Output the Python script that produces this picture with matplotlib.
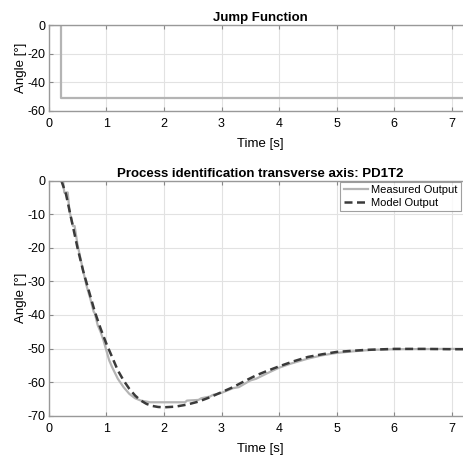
import numpy as np
import matplotlib
matplotlib.use("Agg")
import matplotlib.pyplot as plt

plt.rcParams['font.family'] = ['Liberation Sans', 'DejaVu Sans']
plt.rcParams['axes.unicode_minus'] = False

# jump function (input step)
jump_t = [0.0, 0.22, 10.0]
jump_y = [0.0, -51.0, -51.0]

# measured output
meas_t = [0.0, 0.25, 0.27, 0.33, 0.36, 0.42, 0.45, 0.5, 0.55, 0.6, 0.66, 0.72,
          0.78, 0.8, 0.85, 0.9, 0.95, 1.0, 1.05, 1.1, 1.2, 1.3, 1.4, 1.5, 1.6,
          1.76, 2.37, 2.4, 2.6, 2.65, 2.8, 2.85, 3.0, 3.2, 3.3, 3.5, 3.6, 3.8,
          4.0, 4.2, 4.5, 4.75, 5.0, 5.3, 5.6, 6.0, 7.0, 10.0]
meas_y = [0.0, 0.0, -3.5, -3.5, -9.0, -13.5, -13.5, -19.0, -23.0, -27.0,
          -31.5, -35.0, -39.0, -39.5, -43.0, -45.0, -47.5, -50.5, -53.5, -55.5,
          -59.0, -61.5, -63.5, -64.8, -65.5, -66.0, -66.0, -65.5, -65.3, -64.8,
          -64.3, -63.8, -63.2, -61.8, -61.5, -59.5, -59.0, -57.3, -55.7, -54.5,
          -53.0, -52.0, -51.3, -50.8, -50.4, -50.2, -50.1, -50.1]

# model output PD1T2
model_t = [0.0, 0.22, 0.3, 0.4, 0.5, 0.6, 0.7, 0.8, 0.9, 1.0, 1.1, 1.2, 1.3,
           1.4, 1.5, 1.6, 1.7, 1.8, 1.9, 2.0, 2.2, 2.4, 2.6, 2.8, 3.0, 3.2,
           3.4, 3.6, 3.8, 4.0, 4.25, 4.5, 4.75, 5.0, 5.5, 6.0, 6.5, 7.0, 10.0]
model_y = [0.0, 0.0, -4.0, -12.0, -20.0, -27.0, -33.0, -39.0, -44.0, -48.5,
           -52.5, -56.5, -59.5, -62.0, -64.0, -65.5, -66.5, -67.1, -67.4,
           -67.5, -67.3, -66.7, -65.8, -64.5, -63.0, -61.5, -59.7, -58.0,
           -56.6, -55.3, -53.8, -52.5, -51.7, -51.0, -50.4, -50.1, -50.1,
           -50.2, -50.2]

W, H = 464, 455
fig = plt.figure(figsize=(W / 100, H / 100), dpi=100)

left = 48.7 / W
xmax = 7.35
width = xmax * 57.6 / W  # right edge falls just past the picture

ax1 = fig.add_axes([left, 1 - 110.7 / H, width, 85.7 / H])
ax2 = fig.add_axes([left, 1 - 415.7 / H, width, 235 / H])

light = '#b4b4b4'
dark = '#3a3a3a'

ax1.plot(jump_t, jump_y, color=light, lw=1.6, drawstyle='steps-post')
ax2.plot(meas_t, meas_y, color=light, lw=1.6, label='Measured Output')
ax2.plot(model_t, model_y, color=dark, lw=1.8, ls=(0, (3.2, 1.8)),
         label='Model Output')

for ax in (ax1, ax2):
    ax.set_xlim(0, xmax)
    ax.set_xticks(range(0, 8))
    ax.grid(True, color='#e2e2e2', lw=0.8)
    ax.set_axisbelow(True)
    ax.tick_params(direction='in', top=True, right=True, length=3,
                   labelsize=9, color='#888888')
    ax.tick_params(axis='x', pad=5)
    ax.tick_params(axis='y', pad=2.5)
    for s in ax.spines.values():
        s.set_color('#999999')
        s.set_linewidth(1.0)
    ax.set_xlabel('Time [s]', fontsize=9.5, labelpad=6)
    ax.set_ylabel('Angle [°]', fontsize=9.5, labelpad=0)

ax1.set_ylim(-60, 0)
ax1.set_yticks([-60, -40, -20, 0])
ax1.set_title('Jump Function', fontsize=9.5, fontweight='bold', pad=3)

ax2.set_ylim(-70, 0)
ax2.set_yticks(range(-70, 1, 10))
ax2.set_title('Process identification transverse axis: PD1T2', fontsize=9.5,
              fontweight='bold', pad=3)

leg = ax2.legend(loc='upper right', bbox_to_anchor=(461 / W, 1 - 182 / H),
                 bbox_transform=fig.transFigure, fontsize=8, frameon=True,
                 fancybox=False, handlelength=2.2, borderpad=0.3,
                 labelspacing=0.25, handletextpad=0.3, borderaxespad=0)
leg.get_frame().set_edgecolor('#888888')
leg.get_frame().set_linewidth(0.8)

fig.savefig('out.png', dpi=100)
